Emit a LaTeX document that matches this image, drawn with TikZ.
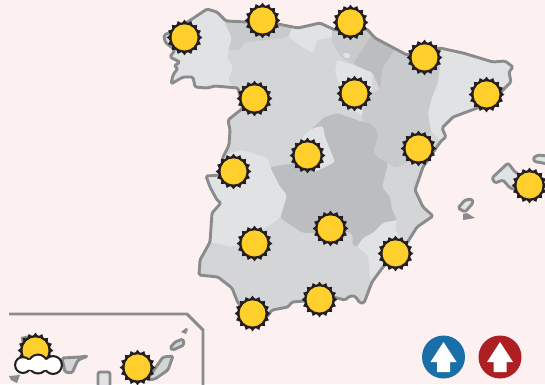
\documentclass[tikz,border=0pt]{standalone}
\definecolor{bgc}{HTML}{FDF0F0}
\definecolor{coast}{HTML}{8A8B8D}
\definecolor{rbase}{HTML}{D4D5D7}
\definecolor{rlight}{HTML}{E1E2E4}
\definecolor{rmid}{HTML}{C9CACC}
\definecolor{rdark}{HTML}{BCBDC0}
\definecolor{sunfill}{HTML}{FFD02C}
\definecolor{sunedge}{HTML}{231F20}
\definecolor{upblue}{HTML}{1B6FA8}
\definecolor{upred}{HTML}{AE1F24}
\tikzset{
  shore/.style={draw=coast,line width=2.9pt,line join=round,rounded corners=1.5pt},
  land/.style={shore,fill=rlight},
  zone/.style={rounded corners=2pt,draw=none},
  sun/.pic={
    \fill[sunedge] (0:17.8)
      \foreach \a in {11.25,33.75,...,348.75}{ -- (\a:14.5) -- (\a+11.25:17.8) } -- cycle;
    \fill[sunedge] (0,0) circle (15.2);
    \fill[sunfill!85!orange] (0,0) circle (13);
    \fill[sunfill] (0,-0.6) circle (12.4);
  },
  upsign/.pic={
    \fill[white] (0,-15) -- (13,5) -- (6.5,5) -- (6.5,15) -- (-6.5,15) -- (-6.5,5) -- (-13,5) -- cycle;
  }
}
\def\mainland{(165,42) -- (164,35) -- (171,32) -- (183,25) -- (195,17) -- (207,9) -- (217,12) -- (226,21) -- (247,22) -- (278,24) -- (298,28) -- (320,23) -- (335,30) -- (367,29) -- (375,38) -- (407,55) -- (440,48) -- (463,53) -- (493,62) -- (505,61) -- (513,67) -- (509,72) -- (511,82) -- (500,93) -- (480,107) -- (453,117) -- (442,128) -- (446,137) -- (441,141) -- (423,167) -- (415,190) -- (423,207) -- (433,216) -- (417,227) -- (407,243) -- (383,267) -- (372,282) -- (364,303) -- (360,303) -- (355,296) -- (350,296) -- (345,300) -- (333,297) -- (317,300) -- (292,302) -- (288,307) -- (272,310) -- (267,317) -- (252,317) -- (238,303) -- (232,288) -- (218,277) -- (199,275) -- (200,260) -- (210,242) -- (212,213) -- (221,203) -- (217,200) -- (210,187) -- (206,176) -- (220,175) -- (223,157) -- (229,145) -- (230,130) -- (228,120) -- (243,108) -- (238,88) -- (215,86) -- (207,88) -- (195,87) -- (193,77) -- (183,77) -- (171,84) -- (173,75) -- (178,68) -- (174,66) -- (180,62) -- (170,57) -- (175,50) -- cycle}
\begin{document}
\begin{tikzpicture}[x=1pt,y=-1pt]
\useasboundingbox (0,0) rectangle (545,384);
\fill[bgc] (0,0) rectangle (545,384);
% mainland base and regions
\fill[rbase] \mainland;
\begin{scope}
\clip \mainland;
% Galicia
\fill[rlight,zone] (225,0) -- (225,23) -- (232,38) -- (227,58) -- (233,67) -- (228,80) -- (238,92) -- (150,100) -- (150,0) -- cycle;
% Asturias and Cantabria
\fill[rmid,zone] (225,10) -- (225,23) -- (232,38) -- (228,50) -- (240,50) -- (245,42) -- (267,40) -- (288,37) -- (299,20) -- cycle;
% Basque coast
\fill[rlight,zone] (298,15) -- (288,37) -- (307,50) -- (313,53) -- (317,40) -- (332,37) -- (336,15) -- cycle;
% Rioja side
\fill[rmid,zone] (332,15) -- (332,43) -- (342,58) -- (353,64) -- (373,33) -- (367,15) -- cycle;
% Navarra
\fill[rdark,zone] (367,15) -- (373,33) -- (353,64) -- (373,73) -- (380,90) -- (383,67) -- (395,50) -- (385,30) -- cycle;
% Rioja light
\fill[rlight,zone] (337,60) -- (335,73) -- (340,85) -- (345,105) -- (362,116) -- (372,92) -- (372,82) -- (373,73) -- (353,65) -- cycle;
\fill[rlight,zone] (343,53) -- (350,53) -- (351,57) -- (347,59) -- (343,56) -- cycle;
% Aragon
\fill[rmid,zone] (395,50) -- (383,67) -- (380,90) -- (372,93) -- (363,107) -- (362,122) -- (370,123) -- (378,132) -- (377,142) -- (373,150) -- (377,157) -- (388,163) -- (397,168) -- (405,163) -- (417,160) -- (431,131) -- (428,113) -- (432,98) -- (438,83) -- (440,67) -- (440,40) -- cycle;
% Catalonia
\fill[rlight,zone] (440,40) -- (440,67) -- (438,83) -- (432,98) -- (428,113) -- (431,131) -- (450,150) -- (530,100) -- (530,40) -- cycle;
% Castilla-La Mancha
\fill[rdark,zone] (323,118) -- (337,113) -- (357,120) -- (362,122) -- (370,123) -- (378,132) -- (377,142) -- (373,150) -- (377,157) -- (388,163) -- (382,187) -- (390,197) -- (392,210) -- (397,220) -- (383,223) -- (373,233) -- (363,238) -- (357,247) -- (352,245) -- (353,237) -- (350,232) -- (303,233) -- (280,218) -- (287,195) -- (280,187) -- (270,167) -- (296,163) -- (300,140) -- (313,128) -- cycle;
% Madrid
\fill[rlight,zone] (304,135) -- (313,128) -- (323,126) -- (325,137) -- (335,162) -- (315,172) -- (296,163) -- (298,145) -- cycle;
% Extremadura
\fill[rlight,zone] (270,167) -- (268,158) -- (242,150) -- (223,155) -- (190,170) -- (190,240) -- (210,242) -- (233,247) -- (262,230) -- (280,218) -- (287,195) -- (280,187) -- cycle;
% Murcia
\fill[rlight,zone] (387,222) -- (383,223) -- (373,233) -- (363,238) -- (357,247) -- (368,255) -- (370,277) -- (376,300) -- (410,260) -- (395,228) -- (397,220) -- cycle;
\end{scope}
\draw[shore] \mainland;
% Balearic Islands
\draw[land] (492,178) -- (508,163) -- (515,172) -- (525,178) -- (525,192) -- (510,188) -- (503,180) -- (495,183) -- cycle;
\draw[land] (547,156) -- (538,155) -- (533,158) -- (535,162) -- (538,162) -- (547,164);
\draw[land] (458,208) -- (465,200) -- (472,199) -- (473,203) -- (465,212) -- cycle;
\fill[coast] (463,220) -- (463,214) -- (467,213) -- (475,218) -- cycle;
% Canary Islands frame
\draw[coast,line width=2.9pt] (9,314) -- (187,314) -- (203,330) -- (203,386);
% Canary Islands
\draw[shore,fill=rbase] (170,348) -- (175,342) -- (183,339) -- (184,345) -- (173,350) -- cycle;
\fill[coast] (181,332) -- (186,328) -- (188,329) -- (186,334) -- cycle;
\draw[shore,fill=rbase] (163,357) -- (173,356) -- (168,370) -- (155,379) -- (147,380) -- cycle;
\draw[shore,fill=rlight] (98,386) -- (98,372) -- (110,372) -- (110,386);
\draw[shore,fill=rbase] (62,358) -- (80,357) -- (88,356) -- (78,360) -- (72,373) -- (65,372) -- cycle;
\fill[coast] (9,376) -- (20,375) -- (17,383) -- (11,380) -- cycle;
\fill[coast] (21,337) -- (30,335) -- (30,345) -- (22,346) -- cycle;
% Suns
\foreach \px/\py in {184.5/37.5,262.5/20.5,350.5/22.5,424.5/57.5,486.5/94.5,254.5/98.5,354.5/93.5,418.5/148.5,307.5/155.5,233.5/171.5,529.5/185.5,330.5/228.5,254.5/243.5,395.5/253.5,319.5/299.5,252.5/313.5,35.5/350.5,137.5/367.5}
  \pic at (\px,\py) {sun};
% Cloud
\foreach \lx/\ly/\lr in {23/365/9,38/364/10.5,53/365/10}
  \fill[sunedge] (\lx,\ly) circle (\lr);
\foreach \lx/\ly/\lr in {23/365/6.8,38/364/8.3,53/365/7.8}
  \fill[white] (\lx,\ly) circle (\lr);
\fill[white] (38,364.8) ellipse (19 and 5.5);
% Trend signs
\fill[upblue] (443.5,357) circle (21.5);
\pic at (443.5,357) {upsign};
\fill[upred] (500,357) circle (21.5);
\pic at (500,357) {upsign};
\end{tikzpicture}
\end{document}
